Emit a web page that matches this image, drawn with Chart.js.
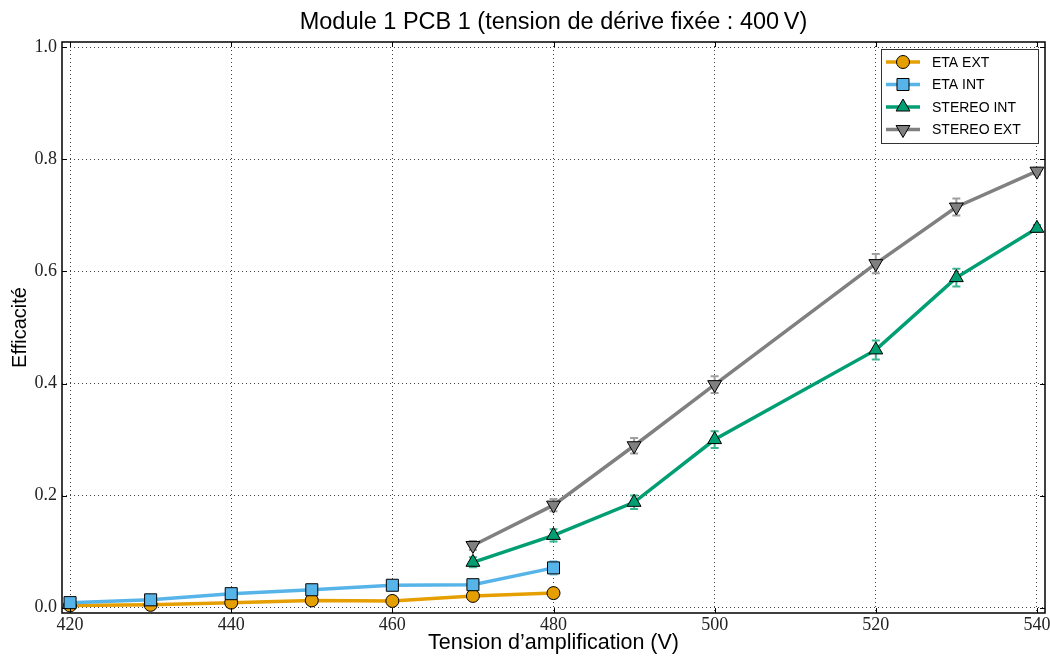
<!DOCTYPE html>
<html>
<head>
<meta charset="utf-8">
<script src="https://cdn.jsdelivr.net/npm/chart.js@4.4.0/dist/chart.umd.min.js"></script>
<style>
  html, body { margin: 0; padding: 0; background: #fff; }
  #wrap { width: 1050px; height: 657px; }
</style>
</head>
<body>
<div id="wrap"><canvas id="myChart" width="1050" height="657"></canvas></div>
<script>
const titleText = 'Module 1 PCB 1 (tension de dérive fixée : 400\u2009V)';
const etaVolts = [420, 430, 440, 450, 460, 470, 480];
const stereoVolts = [470, 480, 490, 500, 520, 530, 540];

const etaExt = [0.004, 0.005, 0.009, 0.013, 0.012, 0.021, 0.026];
const etaExtErr = [0.003, 0.003, 0.004, 0.004, 0.004, 0.005, 0.005];
const etaInt = [0.009, 0.014, 0.025, 0.032, 0.040, 0.041, 0.071];
const etaIntErr = [0.004, 0.005, 0.007, 0.007, 0.008, 0.009, 0.012];
const stereoInt = [0.081, 0.129, 0.188, 0.300, 0.460, 0.589, 0.677];
const stereoIntErr = [0.009, 0.011, 0.012, 0.015, 0.017, 0.016, 0.006];
const stereoExt = [0.111, 0.183, 0.289, 0.398, 0.614, 0.715, 0.779];
const stereoExtErr = [0.008, 0.011, 0.014, 0.015, 0.017, 0.015, 0.006];

const xTicks = [420, 440, 460, 480, 500, 520, 540];
const yTicks = [0.0, 0.2, 0.4, 0.6, 0.8, 1.0];

const toPoints = (xs, ys) => xs.map((x, i) => ({ x: x, y: ys[i] }));

const series = [
    { label: 'ETA EXT', xs: etaVolts, ys: etaExt, err: etaExtErr, color: '#E69F00', errColor: '#eeb94a', style: 'circle', radius: 6.5, rot: 0 },
    { label: 'ETA INT', xs: etaVolts, ys: etaInt, err: etaIntErr, color: '#56B4E9', errColor: '#86c9ef', style: 'rect', radius: 8.5, rot: 0 },
    { label: 'STEREO INT', xs: stereoVolts, ys: stereoInt, err: stereoIntErr, color: '#009E73', errColor: '#3db592', style: 'triangle', radius: 8, rot: 0 },
    { label: 'STEREO EXT', xs: stereoVolts, ys: stereoExt, err: stereoExtErr, color: '#808080', errColor: '#a0a0a0', style: 'triangle', radius: 8, rot: 180 },
];

const data = {
    datasets: series.map((s, i) => ({
        label: s.label,
        data: toPoints(s.xs, s.ys),
        borderColor: s.color,
        backgroundColor: s.color,
        borderWidth: 3.5,
        pointStyle: s.style,
        pointRadius: s.radius,
        pointRotation: s.rot,
        pointBorderColor: '#000',
        pointBorderWidth: 1,
        pointBackgroundColor: s.color,
        errors: s.err,
        errColor: s.errColor,
        order: series.length - i,
        tension: 0,
    })),
};

const serif = '"Liberation Serif", "DejaVu Serif", serif';
const sans = '"Liberation Sans", Arial, sans-serif';

// error bars, frame, inward ticks, x labels, legend and title
const decorations = {
    id: 'decorations',
    beforeDatasetsDraw(chart) {
        const ctx = chart.ctx;
        const xs = chart.scales.x, ys = chart.scales.y;
        ctx.save();
        chart.data.datasets.forEach(ds => {
            ctx.strokeStyle = ds.errColor;
            ctx.lineWidth = 2;
            ds.data.forEach((p, i) => {
                const e = ds.errors[i];
                const px = xs.getPixelForValue(p.x);
                const y1 = ys.getPixelForValue(p.y - e), y2 = ys.getPixelForValue(p.y + e);
                ctx.beginPath();
                ctx.moveTo(px, y1); ctx.lineTo(px, y2);
                ctx.moveTo(px - 4, y1); ctx.lineTo(px + 4, y1);
                ctx.moveTo(px - 4, y2); ctx.lineTo(px + 4, y2);
                ctx.stroke();
            });
        });
        ctx.restore();
    },
    afterDraw(chart) {
        const ctx = chart.ctx;
        const a = chart.chartArea;
        const xs = chart.scales.x, ys = chart.scales.y;
        ctx.save();
        // frame
        ctx.strokeStyle = '#000';
        ctx.lineWidth = 1.5;
        ctx.strokeRect(a.left, a.top, a.right - a.left, a.bottom - a.top);
        // inward ticks
        ctx.lineWidth = 1;
        ctx.beginPath();
        xTicks.forEach(v => {
            const px = Math.round(xs.getPixelForValue(v)) + 0.5;
            ctx.moveTo(px, a.bottom); ctx.lineTo(px, a.bottom - 5);
            ctx.moveTo(px, a.top); ctx.lineTo(px, a.top + 5);
        });
        yTicks.forEach(v => {
            const py = Math.round(ys.getPixelForValue(v)) + 0.5;
            ctx.moveTo(a.left, py); ctx.lineTo(a.left + 5, py);
            ctx.moveTo(a.right, py); ctx.lineTo(a.right - 5, py);
        });
        ctx.stroke();

        // x tick labels
        ctx.fillStyle = '#222';
        ctx.font = '18px ' + serif;
        ctx.textAlign = 'center';
        ctx.textBaseline = 'alphabetic';
        xTicks.forEach(v => ctx.fillText(String(v), xs.getPixelForValue(v), 630));

        // title
        ctx.fillStyle = '#000';
        ctx.font = '23.5px ' + sans;
        ctx.fillText(titleText, (a.left + a.right) / 2, 29);

        // legend
        const lx = 881, ly = 49, lw = 157, lh = 94;
        ctx.fillStyle = '#fff';
        ctx.fillRect(lx, ly, lw, lh);
        ctx.strokeStyle = '#333';
        ctx.lineWidth = 1;
        ctx.strokeRect(lx + 0.5, ly + 0.5, lw, lh);
        ctx.font = '14px ' + sans;
        ctx.textAlign = 'left';
        ctx.textBaseline = 'middle';
        chart.data.datasets.forEach((ds, i) => {
            const cy = ly + 13 + i * 22.5;
            ctx.strokeStyle = ds.borderColor;
            ctx.lineWidth = 3.5;
            ctx.beginPath();
            ctx.moveTo(lx + 5, cy); ctx.lineTo(lx + 39, cy);
            ctx.stroke();
            ctx.fillStyle = ds.pointBackgroundColor;
            ctx.strokeStyle = '#000';
            ctx.lineWidth = 1;
            Chart.helpers.drawPoint(ctx, {
                pointStyle: ds.pointStyle,
                rotation: ds.pointRotation,
                radius: ds.pointRadius,
                borderWidth: 1,
            }, lx + 22, cy);
            ctx.fillStyle = '#000';
            ctx.fillText(ds.label, lx + 51, cy + 1);
        });
        ctx.restore();
    },
};

const gridOpts = { color: '#444', lineWidth: 1, drawTicks: false };

const config = {
    type: 'line',
    data: data,
    options: {
        responsive: false,
        animation: false,
        layout: { autoPadding: false, padding: { top: 42, right: 5, left: 0, bottom: 0 } },
        plugins: {
            legend: { display: false },
            title: { display: false },
            tooltip: { enabled: false },
        },
        scales: {
            x: {
                type: 'linear',
                min: 419,
                max: 541,
                afterBuildTicks: s => { s.ticks = xTicks.map(v => ({ value: v })); },
                afterFit: s => { s.height = 44; s.paddingLeft = 0; s.paddingRight = 0; },
                grid: gridOpts,
                border: { display: false, dash: [1, 3] },
                ticks: { display: false },
                title: { display: true, text: 'Tension d’amplification (V)', font: { family: sans, size: 21.5 }, color: '#000', padding: { top: 0, bottom: 1 } },
            },
            y: {
                type: 'linear',
                min: -0.0095,
                max: 1.0095,
                afterBuildTicks: s => { s.ticks = yTicks.map(v => ({ value: v })); },
                afterFit: s => { s.width = 62; },
                grid: gridOpts,
                border: { display: false, dash: [1, 3] },
                ticks: { font: { family: serif, size: 18 }, color: '#222', padding: 5, callback: v => v.toFixed(1) },
                title: { display: true, text: 'Efficacité', font: { family: sans, size: 20 }, color: '#000', padding: { top: 8, bottom: 0 } },
            },
        },
    },
    plugins: [decorations],
};

const myChart = new Chart(document.getElementById('myChart'), config);
</script>
</body>
</html>
